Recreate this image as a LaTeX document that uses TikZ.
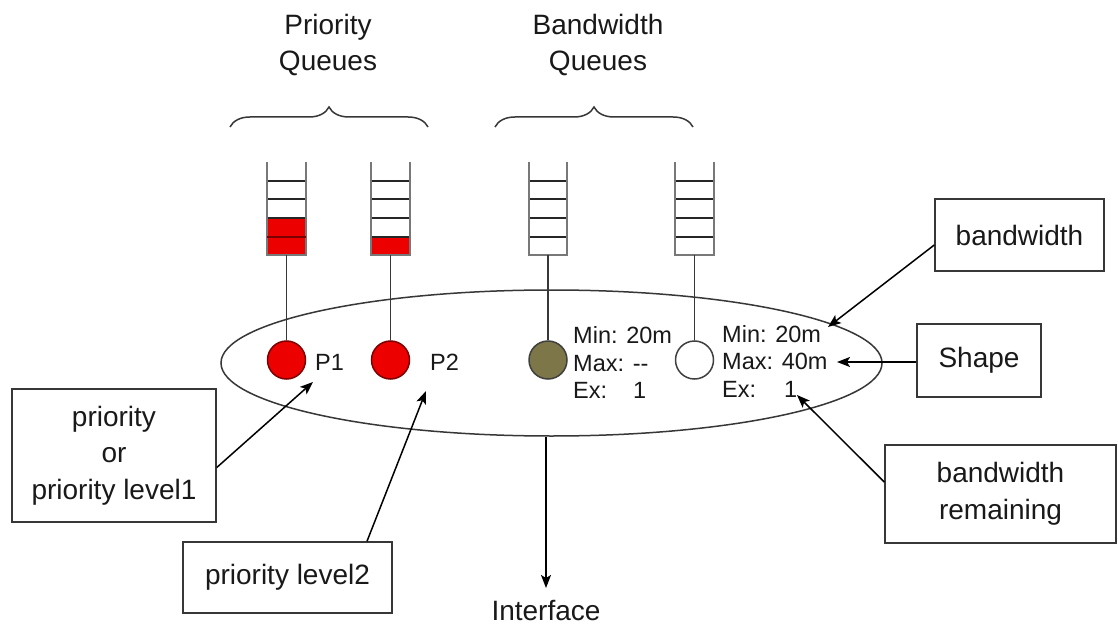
\documentclass[tikz,border=0pt]{standalone}
\usepackage{fontspec}
\setmainfont{Liberation Sans}
\usetikzlibrary{shapes.geometric,arrows.meta,decorations.pathreplacing}
\definecolor{qred}{RGB}{236,0,0}
\definecolor{dred}{RGB}{125,0,0}
\definecolor{qolive}{RGB}{124,118,72}
\definecolor{txt}{RGB}{25,25,25}
\definecolor{ln}{RGB}{55,55,55}
\definecolor{side}{RGB}{120,120,120}
\newcommand{\mylarge}{\fontsize{28}{36.5}\selectfont}
\newcommand{\mysmall}{\fontsize{23.5}{27.5}\selectfont}
\begin{document}
\begin{tikzpicture}[x=1pt,y=-1pt,
  box/.style={draw=ln, line width=1.5pt, fill=white, inner sep=0pt, align=center, font=\mylarge, text=txt},
  title/.style={inner sep=0pt, align=center, font=\mylarge, text=txt},
  lab/.style={inner sep=0pt, font=\mysmall, text=txt},
  arr/.style={draw=black, line width=1.5pt, -{Stealth[length=13pt,width=10pt,inset=3pt]}},
  brc/.style={decorate, decoration={brace, amplitude=20pt}, draw=ln, line width=1.5pt},
  qnode/.style={minimum width=38pt, minimum height=93pt, inner sep=0pt, draw=none},
  divl/.style={draw=black!85, line width=1.6pt},
  sidel/.style={draw=side, line width=2pt},
  cir/.style={circle, minimum size=38pt, inner sep=0pt, line width=1.5pt},
  stem/.style={draw=ln, line width=1.6pt}]
\useasboundingbox (0,0) rectangle (1118,628);
\fill[white] (0,0) rectangle (1118,628);

% titles
\node[title] (tpq) at (328,45) {Priority\\Queues};
\node[title] (tbq) at (598,45) {Bandwidth\\Queues};

% braces
\coordinate (b1l) at (230,127); \coordinate (b1r) at (428,127);
\coordinate (b2l) at (495,127); \coordinate (b2r) at (693,127);
\draw[brc] (b1l) -- (b1r);
\draw[brc] (b2l) -- (b2r);

% ellipse
\node[draw=ln, line width=1.5pt, ellipse, minimum width=661pt, minimum height=146pt, inner sep=0pt] (ell) at (551.5,363) {};

% queues
\foreach \n/\x in {1/286.5, 2/390.5, 3/548, 4/694.5}
  \node[qnode] (q\n) at (\x,208.5) {};
\fill[qred] (q1.south west) rectangle ([yshift=37pt]q1.south east);
\fill[qred] (q2.south west) rectangle ([yshift=18pt]q2.south east);
\foreach \n in {1,...,4}{
  \foreach \d in {18,37,56,74}
    \draw[divl] ([yshift=\d pt]q\n.south west) -- ([yshift=\d pt]q\n.south east);
  \draw[sidel] (q\n.north west) -- (q\n.south west) -- (q\n.south east) -- (q\n.north east);
}
\draw[draw=dred, line width=1.6pt] ([yshift=18pt]q1.south west) -- ([yshift=18pt]q1.south east);

% circles
\node[cir, fill=qred, draw=dred] (c1) at (286.5,360) {};
\node[cir, fill=qred, draw=dred] (c2) at (390.5,360) {};
\node[cir, fill=qolive, draw=black!75] (c3) at (548,360) {};
\node[cir, fill=white, draw=black!75] (c4) at (694.5,360) {};
\foreach \n in {1,...,4}
  \draw[stem] (q\n.south) -- (c\n.north);

% labels
\node[lab, anchor=west] (p1) at (315,362) {P1};
\node[lab, anchor=west] (p2) at (430,362) {P2};
\node[lab, anchor=north west, align=left] (i3) at (573,326.5) {Min: 20m\\Max: -{}-\\Ex:\hspace{26pt}1};
\node[lab, anchor=north west, align=left] (i4) at (722,325) {Min: 20m\\Max: 40m\\Ex:\hspace{28pt}1};

% boxes
\node[box, minimum width=204pt, minimum height=133pt] (pb1) at (114,455.5) {priority\\or\\priority level1};
\node[box, minimum width=209pt, minimum height=71pt] (pb2) at (287.5,577.5) {priority level2};
\node[box, minimum width=169pt, minimum height=72pt] (bw) at (1019.5,235) {bandwidth};
\node[box, minimum width=124pt, minimum height=73pt] (sh) at (979,360.5) {Shape};
\node[box, minimum width=231pt, minimum height=98pt] (bwr) at (1000.5,494) {bandwidth\\remaining};
\node[title, anchor=north] (iface) at (546,600) {Interface};

% arrows
\coordinate (t1) at (313,382);
\coordinate (t2) at (426,391);
\coordinate (t3) at (828,327);
\coordinate (t4) at (837,362);
\coordinate (t5) at (797,395);
\draw[arr] ([yshift=-12pt]pb1.east) -- (t1);
\draw[arr] ([xshift=79.5pt]pb2.north) -- (t2);
\draw[arr] ([yshift=-10pt]bw.west) -- (t3);
\draw[arr] ([yshift=-1.5pt]sh.west) -- (t4);
\draw[arr] ([yshift=12pt]bwr.west) -- (t5);
\draw[arr, shorten >=12pt] ([xshift=-5.5pt]ell.south) -- (iface.north);
\end{tikzpicture}
\end{document}
